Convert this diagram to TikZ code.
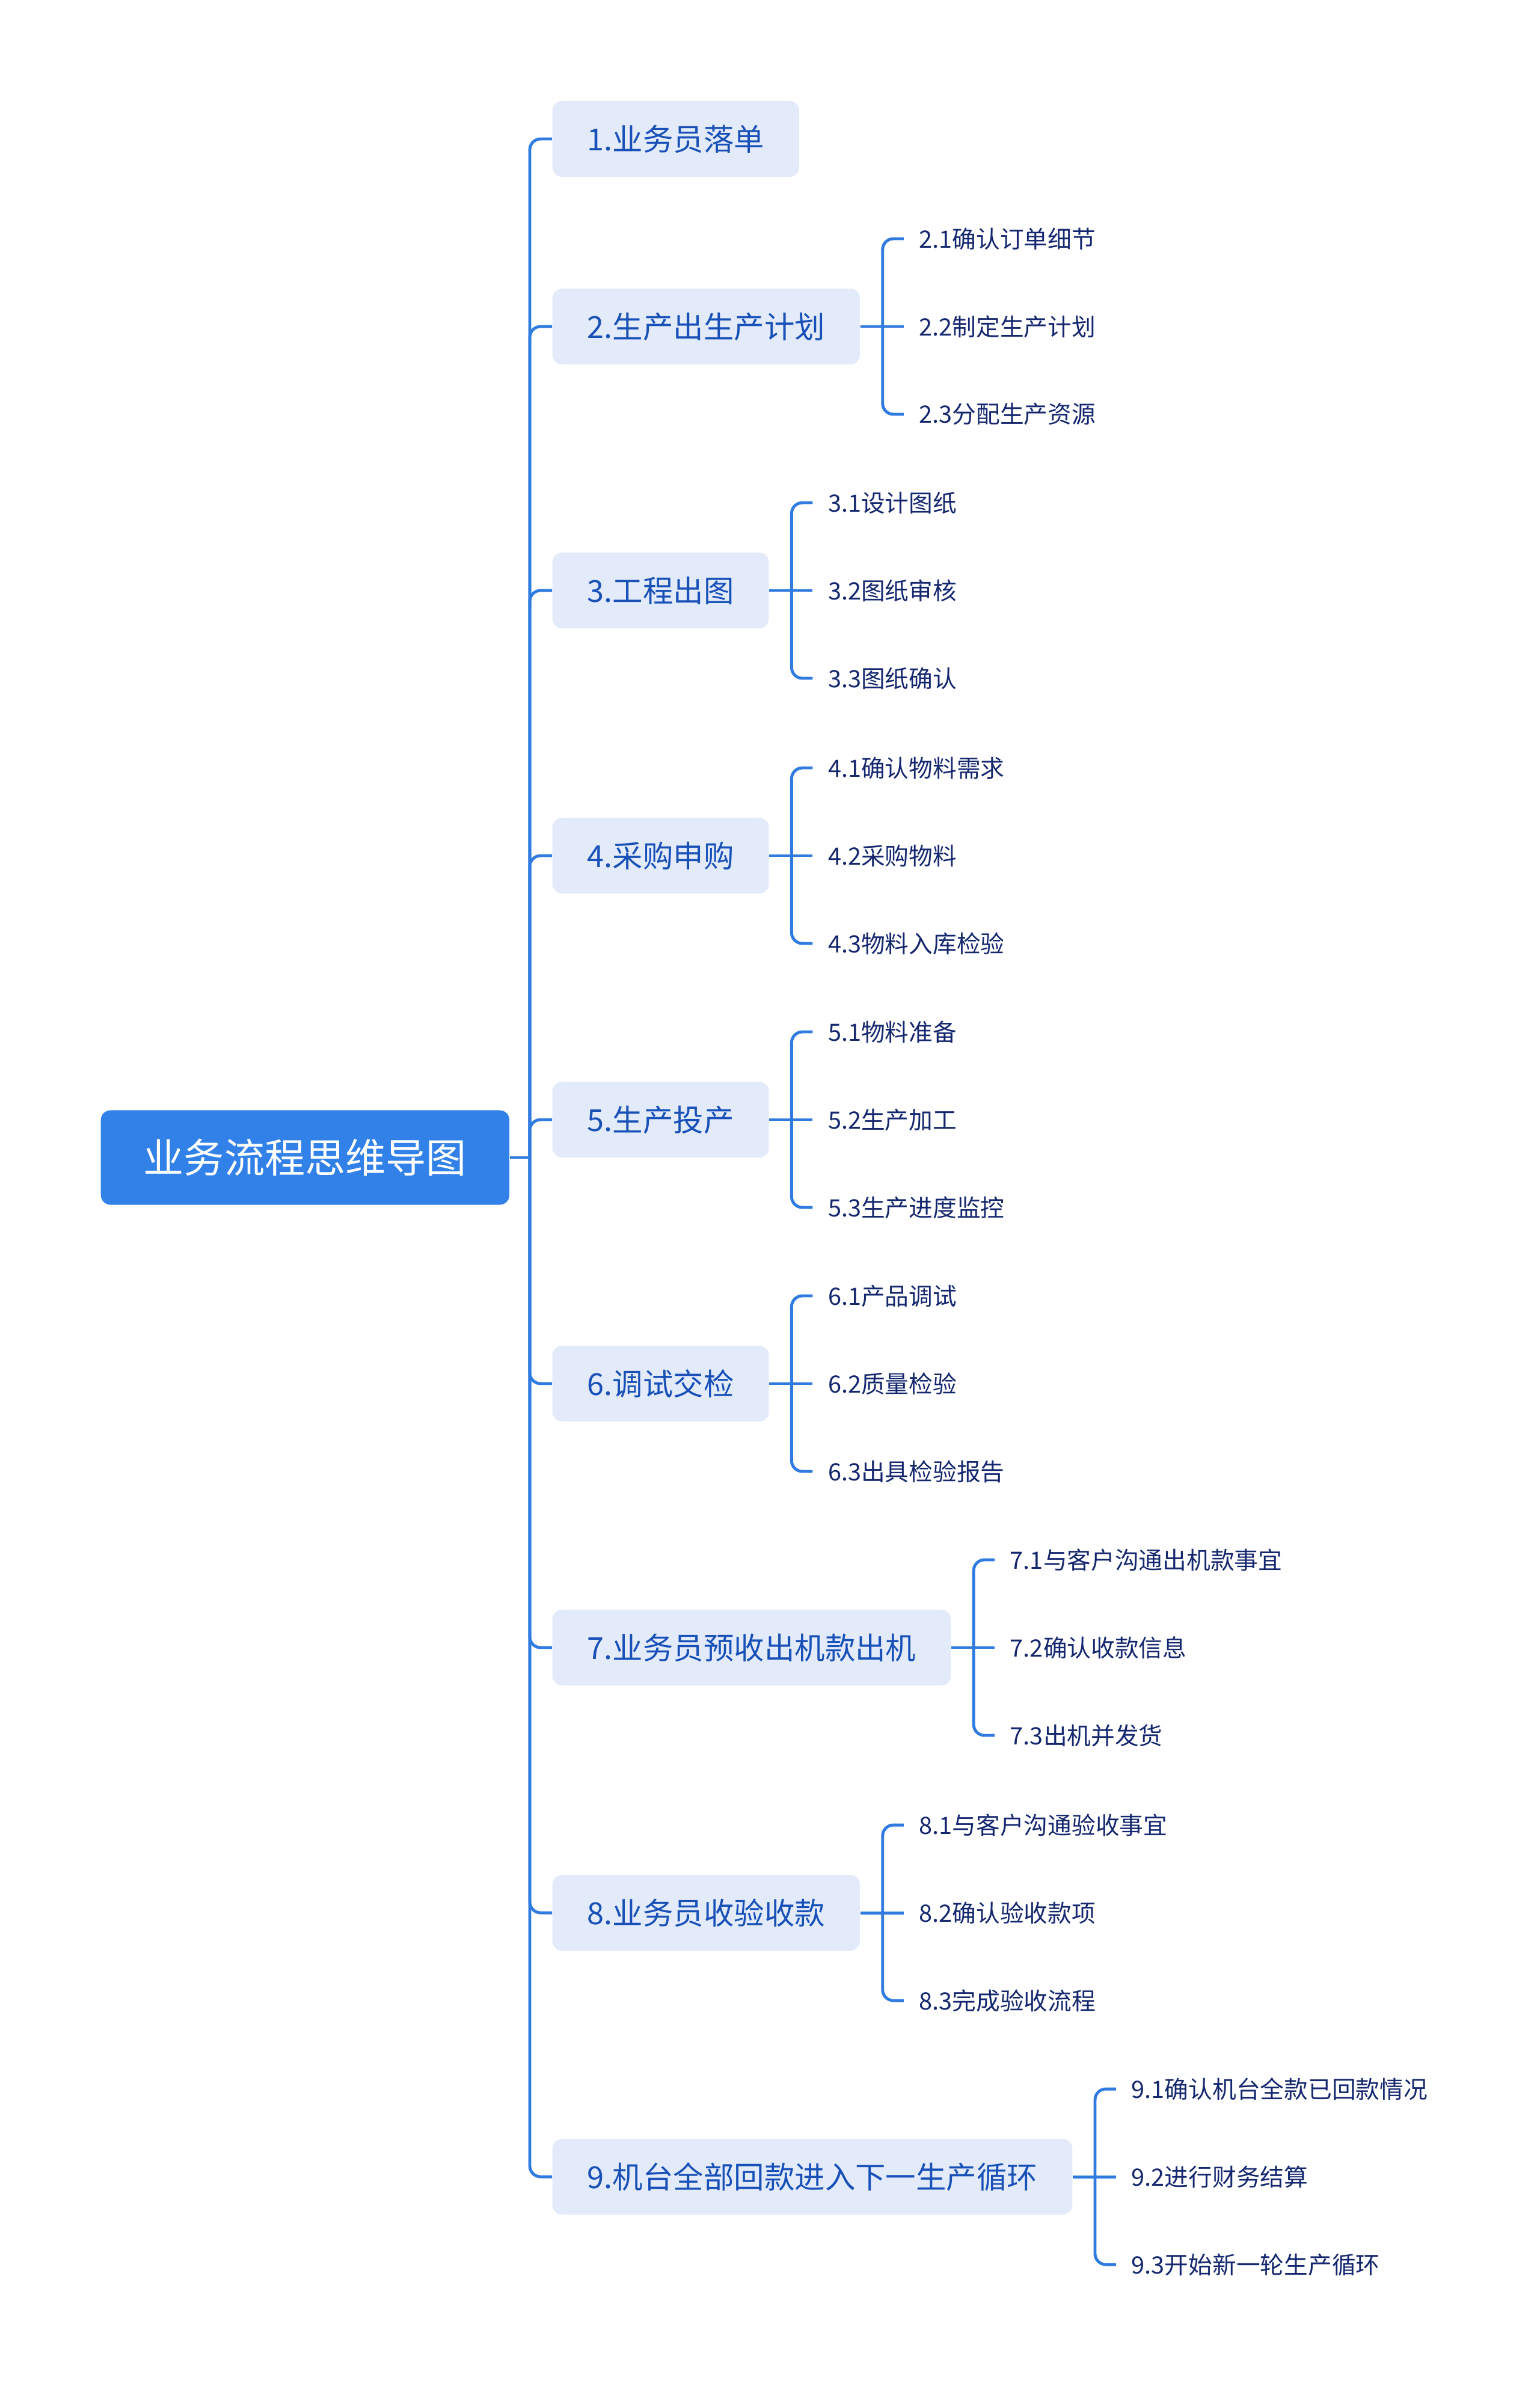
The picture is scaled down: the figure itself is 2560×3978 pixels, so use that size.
\documentclass[tikz,border=0pt]{standalone}
\usepackage{fontspec}
\setmainfont{Noto Sans CJK SC}
\usetikzlibrary{positioning, calc}
\definecolor{rootblue}{HTML}{3281E8}
\definecolor{linkblue}{HTML}{2F7BE0}
\definecolor{topicfill}{HTML}{E3EBFB}
\definecolor{topictext}{HTML}{1850B8}
\definecolor{subtext}{HTML}{15276E}
\tikzset{
	rootnode/.style={
			shape=rectangle,
			rounded corners=0.16cm,
			fill=rootblue,
			text=white,
			font=\fontsize{19.1pt}{23pt}\selectfont,
			minimum height=1.57cm,
			inner xsep=0.71cm,
			anchor=west
		},
	topicnode/.style={
			shape=rectangle,
			rounded corners=0.16cm,
			fill=topicfill,
			text=topictext,
			font=\fontsize{14.35pt}{17pt}\selectfont,
			minimum height=1.26cm,
			inner xsep=0.58cm,
			anchor=west
		},
	subnode/.style={
			text=subtext,
			font=\fontsize{11.3pt}{13pt}\selectfont,
			inner xsep=0.25cm,
			inner ysep=0pt,
			anchor=west
		},
	link/.style={
			draw=linkblue,
			line width=1.4pt,
			rounded corners=0.18cm
		}
}

\begin{document}
\begin{tikzpicture}[x=0.01cm, y=-0.01cm]
  \useasboundingbox (0,0) rectangle (2560,3978);

  \node[rootnode] (r0) at (167,1925) {业务流程思维导图};
  \coordinate (k0) at (881,1925);

  \node[topicnode] (t1) at (918,231) {1.业务员落单};
  \node[topicnode] (t2) at (918,543) {2.生产出生产计划};
  \node[topicnode] (t3) at (918,982) {3.工程出图};
  \node[topicnode] (t4) at (918,1423) {4.采购申购};
  \node[topicnode] (t5) at (918,1862) {5.生产投产};
  \node[topicnode] (t6) at (918,2301) {6.调试交检};
  \node[topicnode] (t7) at (918,2740) {7.业务员预收出机款出机};
  \node[topicnode] (t8) at (918,3181) {8.业务员收验收款};
  \node[topicnode] (t9) at (918,3620) {9.机台全部回款进入下一生产循环};

  \node[subnode] (s21) at ($(t2.east)+(72,-146)$) {2.1确认订单细节};
  \node[subnode] (s22) at ($(t2.east)+(72,0)$) {2.2制定生产计划};
  \node[subnode] (s23) at ($(t2.east)+(72,146)$) {2.3分配生产资源};
  \node[subnode] (s31) at ($(t3.east)+(72,-146)$) {3.1设计图纸};
  \node[subnode] (s32) at ($(t3.east)+(72,0)$) {3.2图纸审核};
  \node[subnode] (s33) at ($(t3.east)+(72,146)$) {3.3图纸确认};
  \node[subnode] (s41) at ($(t4.east)+(72,-146)$) {4.1确认物料需求};
  \node[subnode] (s42) at ($(t4.east)+(72,0)$) {4.2采购物料};
  \node[subnode] (s43) at ($(t4.east)+(72,146)$) {4.3物料入库检验};
  \node[subnode] (s51) at ($(t5.east)+(72,-146)$) {5.1物料准备};
  \node[subnode] (s52) at ($(t5.east)+(72,0)$) {5.2生产加工};
  \node[subnode] (s53) at ($(t5.east)+(72,146)$) {5.3生产进度监控};
  \node[subnode] (s61) at ($(t6.east)+(72,-146)$) {6.1产品调试};
  \node[subnode] (s62) at ($(t6.east)+(72,0)$) {6.2质量检验};
  \node[subnode] (s63) at ($(t6.east)+(72,146)$) {6.3出具检验报告};
  \node[subnode] (s71) at ($(t7.east)+(72,-146)$) {7.1与客户沟通出机款事宜};
  \node[subnode] (s72) at ($(t7.east)+(72,0)$) {7.2确认收款信息};
  \node[subnode] (s73) at ($(t7.east)+(72,146)$) {7.3出机并发货};
  \node[subnode] (s81) at ($(t8.east)+(72,-146)$) {8.1与客户沟通验收事宜};
  \node[subnode] (s82) at ($(t8.east)+(72,0)$) {8.2确认验收款项};
  \node[subnode] (s83) at ($(t8.east)+(72,146)$) {8.3完成验收流程};
  \node[subnode] (s91) at ($(t9.east)+(72,-146)$) {9.1确认机台全款已回款情况};
  \node[subnode] (s92) at ($(t9.east)+(72,0)$) {9.2进行财务结算};
  \node[subnode] (s93) at ($(t9.east)+(72,146)$) {9.3开始新一轮生产循环};

  % trunk
  \draw[link] (r0.east) -- (k0);
  \draw[link] (t1.west) -| (k0) |- (t9.west);
  \foreach \i in {2,...,8}
    \draw[link] (k0) |- (t\i.west);

  % brackets
  \foreach \i in {2,...,9} {
    \coordinate (j\i) at ($(t\i.east)+(37,0)$);
    \draw[link] (t\i.east) -- (s\i2.west);
    \draw[link] (s\i1.west) -| (j\i) |- (s\i3.west);
  }

\end{tikzpicture}
\end{document}
